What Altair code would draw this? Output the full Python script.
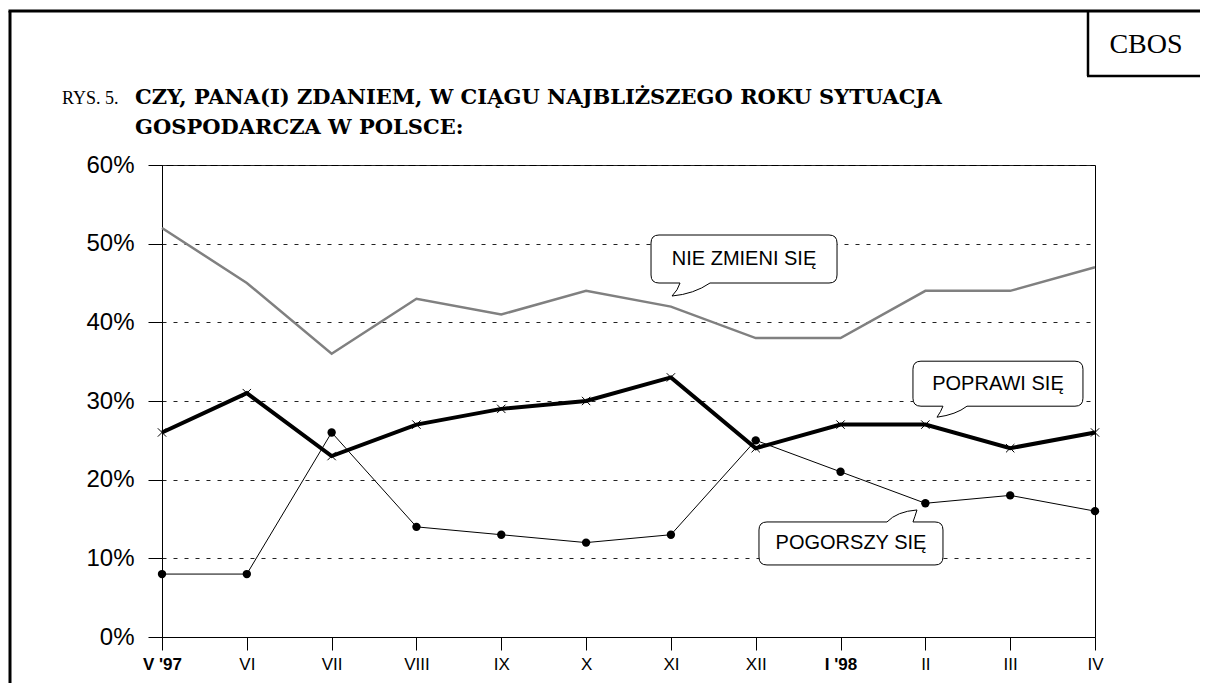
import json
import altair as alt
import pandas as pd

# ---- data ----
MONTHS = ["V '97", "VI", "VII", "VIII", "IX", "X", "XI", "XII", "I '98", "II", "III", "IV"]
NIE_ZMIENI = [52, 45, 36, 43, 41, 44, 42, 38, 38, 44, 44, 47]
POPRAWI = [26, 31, 23, 27, 29, 30, 33, 24, 27, 27, 24, 26]
POGORSZY = [8, 8, 26, 14, 13, 12, 13, 25, 21, 17, 18, 16]
Y_TICKS = [0, 10, 20, 30, 40, 50, 60]

TITLE_PREFIX = "RYS. 5."
TITLE_LINE1 = "CZY, PANA(I) ZDANIEM, W CIĄGU NAJBLIŻSZEGO ROKU SYTUACJA"
TITLE_LINE2 = "GOSPODARCZA W POLSCE:"
SOURCE = "CBOS"

# callout labels and their anchor in data units (month index, percent)
CALLOUT_LABELS = ["NIE ZMIENI SIĘ", "POPRAWI SIĘ", "POGORSZY SIĘ"]
CALLOUT_X = [6.862, 9.856, 8.123]
CALLOUT_Y = [48.05, 32.2, 11.89]

W_PLOT, H_PLOT = 933, 472
SANS = "Liberation Sans"
SERIF = "Liberation Serif"
TITLE_BOLD_FONT = "DejaVu Serif"

idx = list(range(len(MONTHS)))
df_nie = pd.DataFrame({"i": idx, "v": NIE_ZMIENI})
df_pop = pd.DataFrame({"i": idx, "v": POPRAWI})
df_pog = pd.DataFrame({"i": idx, "v": POGORSZY})
one = pd.DataFrame({"a": [0]})

x_enc = alt.X(
    "i:Q",
    scale=alt.Scale(domain=[0, len(MONTHS) - 1], nice=False, zero=False),
    axis=alt.Axis(
        title=None,
        values=idx,
        labelExpr=f"{json.dumps(MONTHS, ensure_ascii=False)}[datum.value]",
        labelFont=SANS,
        labelFontSize=17,
        labelColor="black",
        labelFontWeight={"condition": {"test": "datum.value == 0 || datum.value == 8", "value": "bold"}, "value": "normal"},
        tickSize=13,
        tickColor="black",
        domainColor="black",
        labelPadding=6,
        grid=False,
        labelFlush=False,
    ),
)
y_enc = alt.Y(
    "v:Q",
    scale=alt.Scale(domain=[0, 60], nice=False),
    axis=alt.Axis(
        title=None,
        values=Y_TICKS,
        labelExpr="datum.value + '%'",
        labelFont=SANS,
        labelFontSize=24,
        labelColor="black",
        tickSize=14,
        tickColor="black",
        domainColor="black",
        labelPadding=14,
        grid=True,
        gridDash=[4, 7],
        gridColor="#222",
        gridWidth=1,
    ),
)

line_nie = alt.Chart(df_nie).mark_line(color="#808080", strokeWidth=2.5).encode(x=x_enc, y=y_enc)
line_pog = alt.Chart(df_pog).mark_line(color="black", strokeWidth=1).encode(x=x_enc, y=y_enc)
pts_pog = alt.Chart(df_pog).mark_point(filled=True, color="black", size=70, opacity=1).encode(x=x_enc, y=y_enc)
line_pop = alt.Chart(df_pop).mark_line(color="black", strokeWidth=4).encode(x=x_enc, y=y_enc)
pts_pop = alt.Chart(df_pop).mark_point(
    shape="M-1,-1L1,1M-1,1L1,-1", filled=False, stroke="black", strokeWidth=1, size=70, opacity=1
).encode(x=x_enc, y=y_enc)


def balloon_path(W, H, r, edge, base_a, base_b, tip, ctrl_a, ctrl_b):
    hw, hh = W / 2, H / 2
    s = 2.0 / W

    def P(x, y):
        return f"{x * s:.4f},{y * s:.4f}"

    d = [f"M{P(-hw + r, -hh)}"]
    if edge == "top":
        d.append(f"L{P(base_a, -hh)}")
        d.append(f"Q{P(*ctrl_a)} {P(*tip)}")
        d.append(f"Q{P(*ctrl_b)} {P(base_b, -hh)}")
    d.append(f"L{P(hw - r, -hh)}")
    d.append(f"Q{P(hw, -hh)} {P(hw, -hh + r)}")
    d.append(f"L{P(hw, hh - r)}")
    d.append(f"Q{P(hw, hh)} {P(hw - r, hh)}")
    if edge == "bottom":
        d.append(f"L{P(base_b, hh)}")
        d.append(f"Q{P(*ctrl_b)} {P(*tip)}")
        d.append(f"Q{P(*ctrl_a)} {P(base_a, hh)}")
    d.append(f"L{P(-hw + r, hh)}")
    d.append(f"Q{P(-hw, hh)} {P(-hw, hh - r)}")
    d.append(f"L{P(-hw, -hh + r)}")
    d.append(f"Q{P(-hw, -hh)} {P(-hw + r, -hh)}")
    d.append("Z")
    return " ".join(d)


BALLOONS = [
    dict(W=186, H=48, edge="bottom", base_a=-64, base_b=-34, tip=(-72, 37), ctrl_a=(-66, 31), ctrl_b=(-50, 35)),
    dict(W=170, H=45, edge="bottom", base_a=-55, base_b=-31, tip=(-61, 33.5), ctrl_a=(-57, 28), ctrl_b=(-42, 31)),
    dict(W=184, H=43, edge="top", base_a=36, base_b=62, tip=(66, -33.5), ctrl_a=(46, -32), ctrl_b=(64, -27)),
]

callout_layers = []
for k, b in enumerate(BALLOONS):
    dfc = pd.DataFrame({"i": [CALLOUT_X[k]], "v": [CALLOUT_Y[k]], "t": [CALLOUT_LABELS[k]]})
    shape = balloon_path(b["W"], b["H"], 8, b["edge"], b["base_a"], b["base_b"], b["tip"], b["ctrl_a"], b["ctrl_b"])
    bal = alt.Chart(dfc).mark_point(
        shape=shape, size=b["W"] ** 2, filled=True, fill="white", stroke="black", strokeWidth=1, opacity=1
    ).encode(x=x_enc, y=y_enc)
    txt = alt.Chart(dfc).mark_text(
        font=SANS, fontSize=20, color="black", align="center", baseline="middle"
    ).encode(x=x_enc, y=y_enc, text="t:N")
    callout_layers += [bal, txt]

# ---- page decorations: frame, source box, title ----
frame_left = alt.Chart(one).mark_rule(color="black", strokeWidth=3).encode(
    x=alt.value(-152), y=alt.value(-154), y2=alt.value(H_PLOT + 60))
frame_top = alt.Chart(one).mark_rule(color="black", strokeWidth=3).encode(
    x=alt.value(-153.5), x2=alt.value(W_PLOT + 120), y=alt.value(-154))
src_left = alt.Chart(one).mark_rule(color="black", strokeWidth=2.5).encode(
    x=alt.value(926), y=alt.value(-154), y2=alt.value(-89))
src_bottom = alt.Chart(one).mark_rule(color="black", strokeWidth=2.5).encode(
    x=alt.value(925), x2=alt.value(W_PLOT + 120), y=alt.value(-89))
src_text = alt.Chart(one).mark_text(font=SERIF, fontSize=28, color="black", align="center", baseline="alphabetic").encode(
    x=alt.value(984), y=alt.value(-112), text=alt.value(SOURCE))
t_prefix = alt.Chart(one).mark_text(font=SERIF, fontSize=18, color="black", align="left", baseline="alphabetic").encode(
    x=alt.value(-100), y=alt.value(-61), text=alt.value(TITLE_PREFIX))
t_line1 = alt.Chart(one).mark_text(font=TITLE_BOLD_FONT, fontSize=21, fontWeight="bold", color="black", align="left", baseline="alphabetic").encode(
    x=alt.value(-27), y=alt.value(-61), text=alt.value(TITLE_LINE1))
t_line2 = alt.Chart(one).mark_text(font=TITLE_BOLD_FONT, fontSize=21, fontWeight="bold", color="black", align="left", baseline="alphabetic").encode(
    x=alt.value(-27), y=alt.value(-31), text=alt.value(TITLE_LINE2))

chart = alt.layer(
    line_nie, line_pog, pts_pog, line_pop, pts_pop, *callout_layers,
    frame_left, frame_top, src_left, src_bottom, src_text, t_prefix, t_line1, t_line2,
).properties(
    width=W_PLOT,
    height=H_PLOT,
    autosize=alt.AutoSizeParams(type="none"),
    padding={"left": 154, "top": 157, "right": 105, "bottom": 46},
    background="white",
).configure_view(
    stroke="black", strokeWidth=1
)

chart.save("out.html", embed_options={"renderer": "svg", "actions": False})
